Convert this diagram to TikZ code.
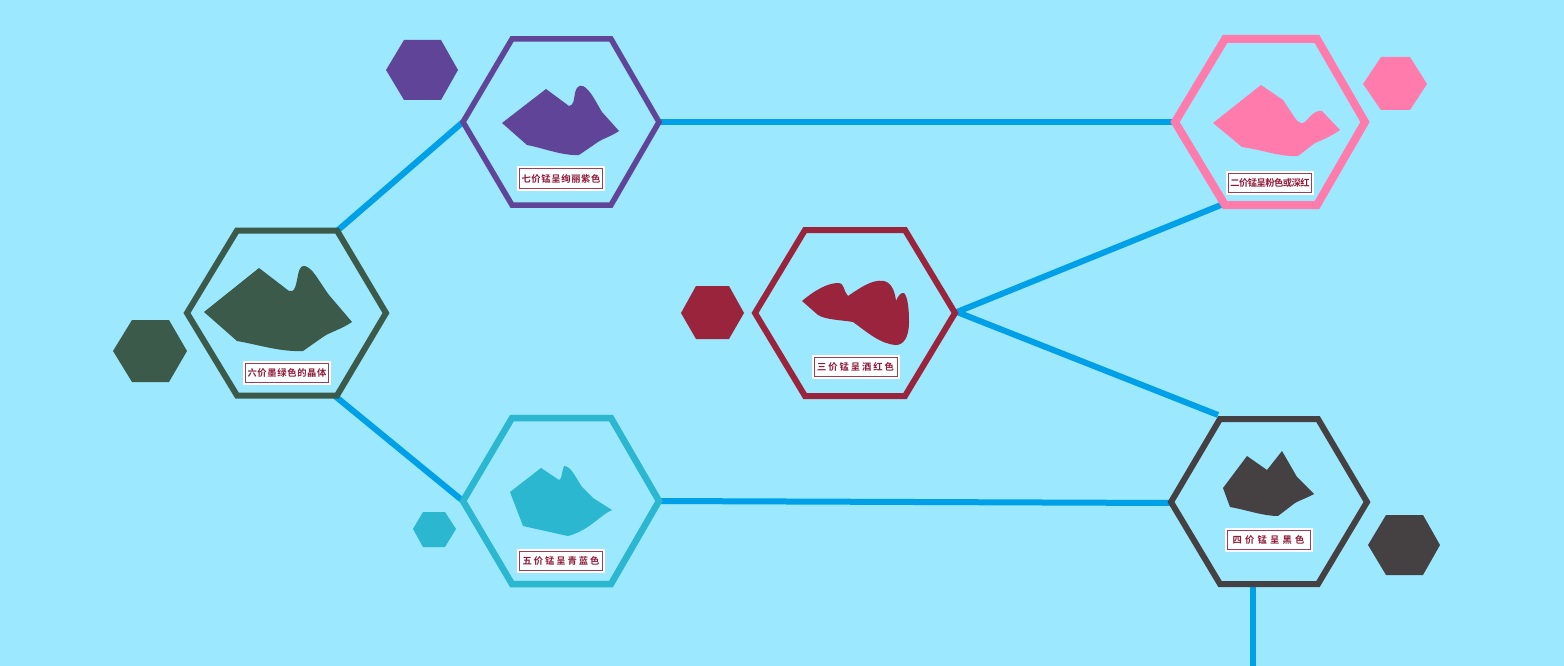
\documentclass[tikz,border=0pt]{standalone}
\usepackage{fontspec}
\newfontfamily\cjk[BoldFont={Noto Sans CJK SC Bold}]{Noto Sans CJK SC}
\definecolor{bgc}{HTML}{9BE8FF}
\definecolor{wire}{HTML}{00A0E9}
\definecolor{cpurple}{HTML}{5F4498}
\definecolor{cpink}{HTML}{FF7BAC}
\definecolor{cgreen}{HTML}{3B5A4A}
\definecolor{cred}{HTML}{9A243B}
\definecolor{cteal}{HTML}{2BB7CF}
\definecolor{cdark}{HTML}{454041}
\definecolor{labc}{HTML}{8E1B3A}
\tikzset{
  wirelink/.style={draw=wire,line width=6pt},
  hexring/.style={line join=miter,fill=none},
  lab/.style={draw=labc!85!white,line width=1pt,fill=white,text=labc,inner sep=0pt,
    minimum width=83pt,minimum height=19pt,font=\fontsize{9.3pt}{10pt}\selectfont\cjk\bfseries,
    preaction={draw=white,line width=5pt}}
}
\begin{document}
\begin{tikzpicture}[x=1pt,y=-1pt]
\useasboundingbox (0,0) rectangle (1564,666);
\fill[bgc] (0,0) rectangle (1564,666);
% hexagon corners used by connectors
\coordinate (gNE) at (337,231);
\coordinate (gSE) at (335,396);
\coordinate (pW) at (463,122);
\coordinate (pE) at (659,122);
\coordinate (kW) at (1175,122);
\coordinate (kSW) at (1221,205);
\coordinate (rE) at (957,312);
\coordinate (dNW) at (1218,415);
\coordinate (dW) at (1171,503);
\coordinate (tW) at (463,501);
\coordinate (tE) at (659,501);
\coordinate (dB) at (1253,584);
\coordinate (dOut) at (1253,666);
% connectors
\draw[wirelink] (gNE) -- (pW);
\draw[wirelink] (gSE) -- (tW);
\draw[wirelink] (pE) -- (kW);
\draw[wirelink] (rE) -- (kSW);
\draw[wirelink] (rE) -- (dNW);
\draw[wirelink] (tE) -- (dW);
\draw[wirelink] (dB) -- (dOut);
% rings
\draw[hexring,cgreen,line width=6pt] (187,313)--(237,230.5)--(337,230.5)--(386,313)--(337,395.5)--(237,395.5)--cycle;
\draw[hexring,cpurple,line width=5.5pt] (463,122)--(512,39)--(611,39)--(659,122)--(611,205)--(512,205)--cycle;
\draw[hexring,cpink,line width=8pt] (1175,122)--(1225,39)--(1317,39)--(1365,122)--(1317,205)--(1225,205)--cycle;
\draw[hexring,cred,line width=6pt] (755,313)--(805,230)--(905,230)--(955,313)--(905,396)--(805,396)--cycle;
\draw[hexring,cteal,line width=6.5pt] (463,501)--(512,418)--(611,418)--(659,501)--(611,584)--(512,584)--cycle;
\draw[hexring,cdark,line width=6pt] (1171,502)--(1220,419)--(1318,419)--(1367,502)--(1318,584)--(1220,584)--cycle;
% small hexagons
\fill[cpurple] (386,70)--(404,40)--(441,40)--(458,70)--(441,100)--(404,100)--cycle;
\fill[cpink] (1363,84)--(1381,57)--(1410,57)--(1427,84)--(1410,110)--(1381,110)--cycle;
\fill[cgreen] (113,351)--(132,320)--(169,320)--(187,351)--(169,382)--(132,382)--cycle;
\fill[cred] (681,313)--(696,286)--(729,286)--(744,313)--(729,339)--(696,339)--cycle;
\fill[cteal] (413,529)--(423,512)--(445,512)--(456,529)--(445,547)--(423,547)--cycle;
\fill[cdark] (1368,545)--(1386,515)--(1423,515)--(1440,545)--(1423,575)--(1386,575)--cycle;
% crystals
\fill[cgreen] (204,312)--(259,268)--(289,291) .. controls (295,293) and (296,285) .. (298,275)
  .. controls (300,263) and (306,264) .. (313,272) .. controls (318,278) and (323,287) .. (329,295)
  --(352,322) .. controls (340,330) and (330,332) .. (323,337) --(303,351)
  .. controls (280,352) and (260,345) .. (237,341) --cycle;
\fill[cpurple] (502,123)--(546,89)--(569,106) .. controls (574,106) and (574,98) .. (575,93)
  .. controls (577,84) and (582,84) .. (587,89) .. controls (593,95) and (597,104) .. (602,112)
  --(619,131) .. controls (610,137) and (604,138) .. (598,142) --(579,155)
  .. controls (563,156) and (543,148) .. (527,145) --cycle;
\fill[cpink] (1213,123)--(1261,85)--(1283,100)--(1295,118) .. controls (1298,123) and (1302,124) .. (1305,122)
  .. controls (1310,117) and (1314,110) .. (1322,111) --(1340,130) .. controls (1330,137) and (1322,140) .. (1315,143)
  --(1298,156) .. controls (1280,157) and (1263,150) .. (1242,147) --cycle;
\fill[cred] (802,301) .. controls (815,290) and (828,283) .. (838,283) .. controls (845,283) and (843,291) .. (848,296)
  .. controls (860,288) and (872,279) .. (884,281) .. controls (892,283) and (895,292) .. (896,301)
  .. controls (898,296) and (901,292) .. (904,293) .. controls (908,297) and (909,310) .. (909,322)
  .. controls (909,338) and (903,345) .. (896,345) .. controls (880,344) and (867,332) .. (853,322)
  .. controls (842,320) and (826,320) .. (818,315) --cycle;
\fill[cteal] (510,492)--(541,468)--(559,480) .. controls (562,480) and (562,470) .. (564,466)
  .. controls (571,466) and (576,478) .. (582,487) --(593,498)--(612,510)
  .. controls (600,515) and (590,530) .. (568,536) --(523,526) --cycle;
\fill[cdark] (1223,488)--(1247,456)--(1267,470)--(1282,451)--(1297,477)--(1314,494)
  .. controls (1307,498) and (1300,500) .. (1295,503) --(1278,516)
  .. controls (1263,516) and (1247,510) .. (1230,507) --cycle;
% labels
\node[lab] (lGreen) at (287,372.5) {\addfontfeature{LetterSpace=7}六价墨绿色的晶体};
\node[lab] (lPurple) at (561,178.5) {\addfontfeature{LetterSpace=7}七价锰呈绚丽紫色};
\node[lab] (lPink) at (1270,183) {\addfontfeature{LetterSpace=-6}二价锰呈粉色或深红};
\node[lab] (lRed) at (855.5,366.5) {\addfontfeature{LetterSpace=21}三价锰呈酒红色};
\node[lab] (lTeal) at (561,560.5) {\addfontfeature{LetterSpace=21}五价锰呈青蓝色};
\node[lab] (lDark) at (1268.5,540) {\addfontfeature{LetterSpace=34}四价锰呈黑色};
\end{tikzpicture}
\end{document}
